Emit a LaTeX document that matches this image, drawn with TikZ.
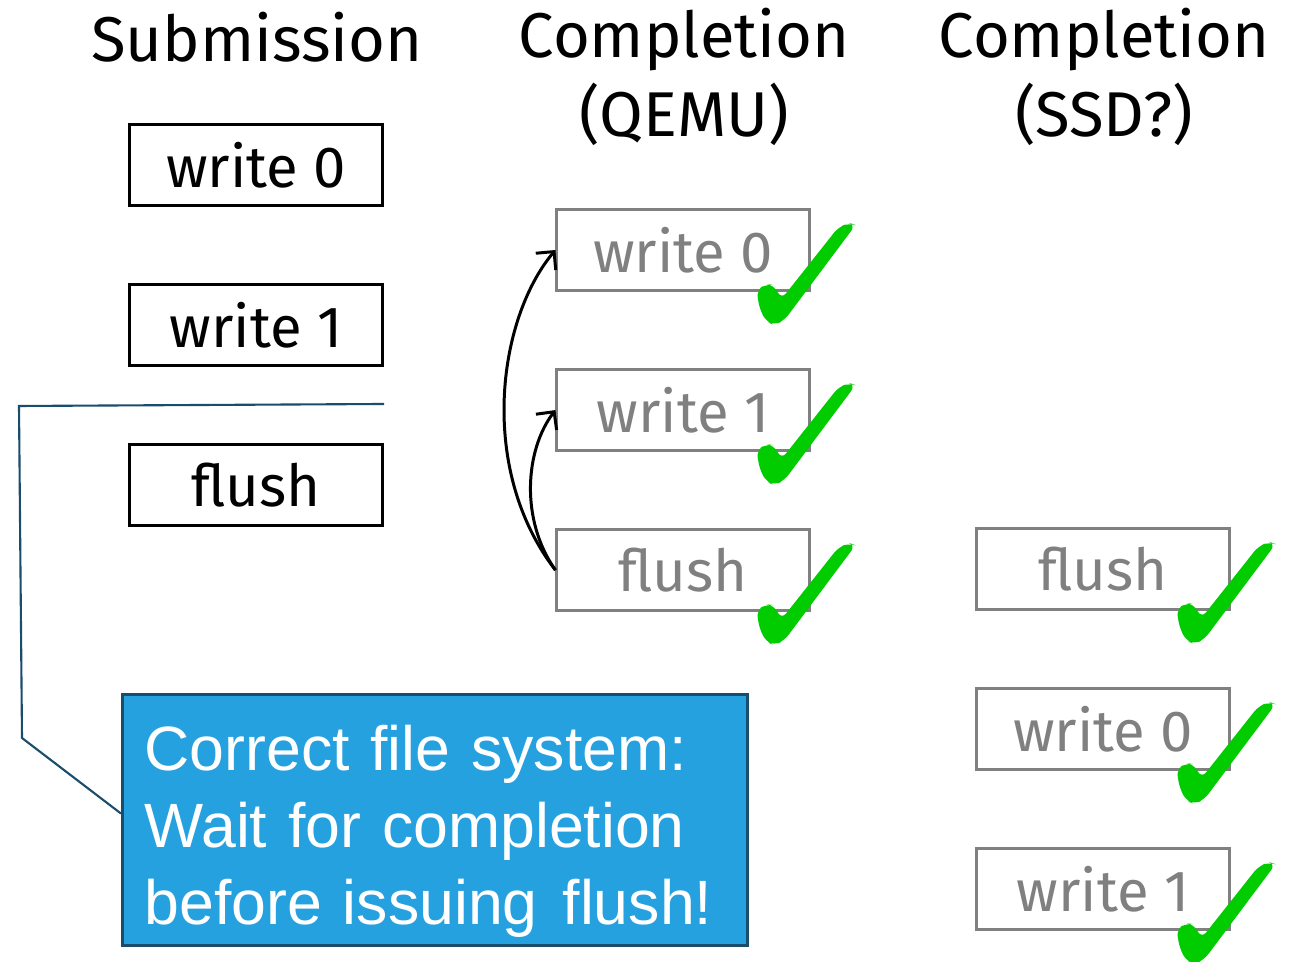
\documentclass[tikz,border=0pt]{standalone}
\usepackage{fontspec}
\setmainfont{Fira Sans}
\newfontfamily\calloutfont{Liberation Sans}
\usetikzlibrary{positioning, arrows.meta}
\definecolor{pending}{HTML}{808080}
\definecolor{okgreen}{HTML}{00CC00}
\definecolor{callfill}{HTML}{26A1DF}
\definecolor{calledge}{HTML}{1A4D6B}
\tikzstyle{req} = [draw, line width=0.85pt, minimum width=2.52cm, minimum height=0.81cm, inner sep=0pt, font=\fontsize{16.5}{19}\selectfont]
\tikzstyle{done} = [req, draw=pending, text=pending]
\tikzstyle{head} = [align=center, font=\fontsize{18}{22.5}\selectfont]
\tikzset{okmark/.pic={\fill[okgreen, rounded corners=2pt] (-54,-2) -- (-44,-8) -- (-37,-7) -- (-29,7) -- (28,-65) -- (39,-69) -- (45,-67) -- (-26,28) -- (-36,33) -- (-44,30) -- (-51,17) -- cycle;}}

\begin{document}
\begin{tikzpicture}[x=0.01cm, y=-0.01cm, node distance=0.76cm]
	\useasboundingbox (0,0) rectangle (1294,962);
	% column headers
	\node [head] (hsub) at (257,37) {Submission};
	\node [head] (hqemu) at (684,77) {Completion\\(QEMU)};
	\node [head] (hssd) at (1104,77) {Completion\\(SSD?)};

	% submission order
	\node [req] (sw0) at (256,165) {write 0};
	\node [req, below=of sw0] (sw1) {write 1};
	\node [req, below=of sw1] (sfl) {flush};

	% completion seen by QEMU
	\node [done] (qw0) at (683,250) {write 0};
	\node [done, below=of qw0] (qw1) {write 1};
	\node [done, below=of qw1] (qfl) {flush};

	% completion on the SSD
	\node [done] (dfl) at (1103,569) {flush};
	\node [done, below=of dfl] (dw0) {write 0};
	\node [done, below=of dw0] (dw1) {write 1};

	\foreach \n in {qw0,qw1,qfl,dfl,dw0,dw1}
		\pic at (\n.south east) {okmark};

	\draw [line width=0.85pt, -{Straight Barb[length=1.3mm, width=2.6mm]}] (qfl.west) .. controls (478,470) and (497,320) .. (qw0.west);
	\draw [line width=0.85pt, -{Straight Barb[length=1.3mm, width=2.6mm]}] (qfl.west) .. controls (520,520) and (525,450) .. (qw1.west);

	% callout
	\node [draw=calledge, fill=callfill, line width=0.85pt, anchor=north west, minimum width=6.25cm, minimum height=2.51cm, text width=5.81cm, inner xsep=0.22cm, inner ysep=0.065cm, align=left, text=white, font=\calloutfont\fontsize{17.8}{21.9}\selectfont] (callout) at (121,693) {\rule{0pt}{0.68cm}Correct file system:\\Wait for completion\\\mbox{before issuing\hspace{0.4em}flush!}};
	\coordinate (lead) at (384,404);
	\draw [calledge, line width=0.6pt] (lead) -- (19,406) -- (22,738) -- ([yshift=0.065cm]callout.west);
\end{tikzpicture}
\end{document}
